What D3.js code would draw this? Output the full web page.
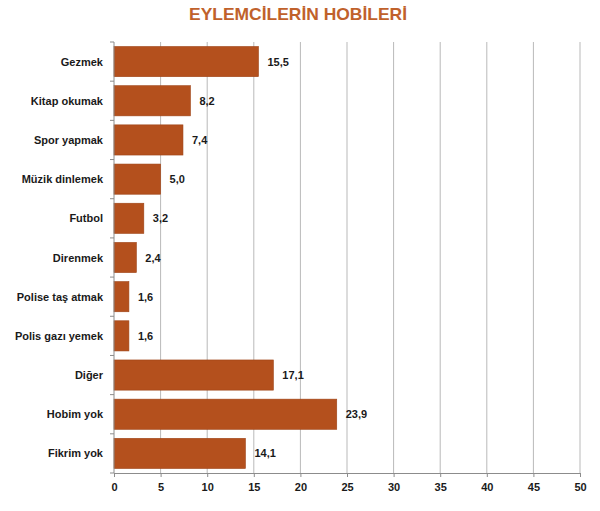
<!DOCTYPE html>
<html><head><meta charset="utf-8">
<script src="https://cdn.jsdelivr.net/npm/d3@7"></script>
<style>body{margin:0;background:#fff}svg{display:block}</style>
</head><body>
<script>
const title = "EYLEMCİLERİN HOBİLERİ";
const categories = ["Gezmek","Kitap okumak","Spor yapmak","Müzik dinlemek","Futbol","Direnmek","Polise taş atmak","Polis gazı yemek","Diğer","Hobim yok","Fikrim yok"];
const values = [15.5,8.2,7.4,5.0,3.2,2.4,1.6,1.6,17.1,23.9,14.1];
const xTicks = [0,5,10,15,20,25,30,35,40,45,50];

const W=600,H=511;
const m={left:114,right:20,top:42,bottom:38};
const svg=d3.select("body").append("svg").attr("width",W).attr("height",H);
const font="'Liberation Sans', Arial, sans-serif";

const x=d3.scaleLinear().domain([0,50]).range([m.left,580]);
const y=d3.scaleBand().domain(categories).range([m.top,473]).paddingInner(0.23).paddingOuter(0.115);

svg.append("text").attr("x",298).attr("y",20).attr("text-anchor","middle")
  .attr("font-family",font).attr("font-weight","bold").attr("font-size",17)
  .attr("fill","#c0612b").attr("textLength",218).attr("lengthAdjust","spacingAndGlyphs").text(title);

// grid
svg.append("g").selectAll("line").data(xTicks.slice(1)).join("line")
  .attr("x1",d=>x(d)).attr("x2",d=>x(d)).attr("y1",m.top).attr("y2",473)
  .attr("stroke","#b9b9b9").attr("stroke-width",1);

// bars
svg.append("g").selectAll("rect").data(values).join("rect")
  .attr("x",x(0)).attr("y",(d,i)=>y(categories[i]))
  .attr("width",d=>x(d)-x(0)).attr("height",y.bandwidth())
  .attr("fill","#b4501d").attr("stroke","#9e4316").attr("stroke-width",0.6);

// value labels
svg.append("g").selectAll("text").data(values).join("text")
  .attr("x",d=>x(d)+9).attr("y",(d,i)=>y(categories[i])+y.bandwidth()/2+4)
  .attr("font-family",font).attr("font-weight","bold").attr("font-size",11).attr("fill","#1a1a1a")
  .text(d=>d3.format(".1f")(d).replace(".",","));

// y axis
const ya=svg.append("g").attr("transform",`translate(${m.left},0)`);
ya.append("line").attr("x1",0).attr("x2",0).attr("y1",m.top).attr("y2",473).attr("stroke","#8c8c8c");
const step=(473-m.top)/categories.length;
ya.selectAll("line.t").data(d3.range(categories.length+1)).join("line").attr("class","t")
  .attr("x1",-4).attr("x2",0).attr("y1",i=>m.top+i*step).attr("y2",i=>m.top+i*step).attr("stroke","#8c8c8c");
ya.selectAll("text").data(categories).join("text")
  .attr("x",-11).attr("y",d=>y(d)+y.bandwidth()/2+4).attr("text-anchor","end")
  .attr("font-family",font).attr("font-weight","bold").attr("font-size",11).attr("fill","#1a1a1a").text(d=>d);

// x axis
const xa=svg.append("g").attr("transform","translate(0,473)")
  .call(d3.axisBottom(x).tickValues(xTicks).tickSize(4).tickFormat(d3.format("d")));
xa.select(".domain").attr("stroke","#8c8c8c");
xa.selectAll(".tick line").attr("stroke","#8c8c8c");
xa.selectAll("text").attr("font-family",font).attr("font-weight","bold").attr("font-size",11).attr("fill","#1a1a1a").attr("dy","1.0em");
</script>
</body></html>
